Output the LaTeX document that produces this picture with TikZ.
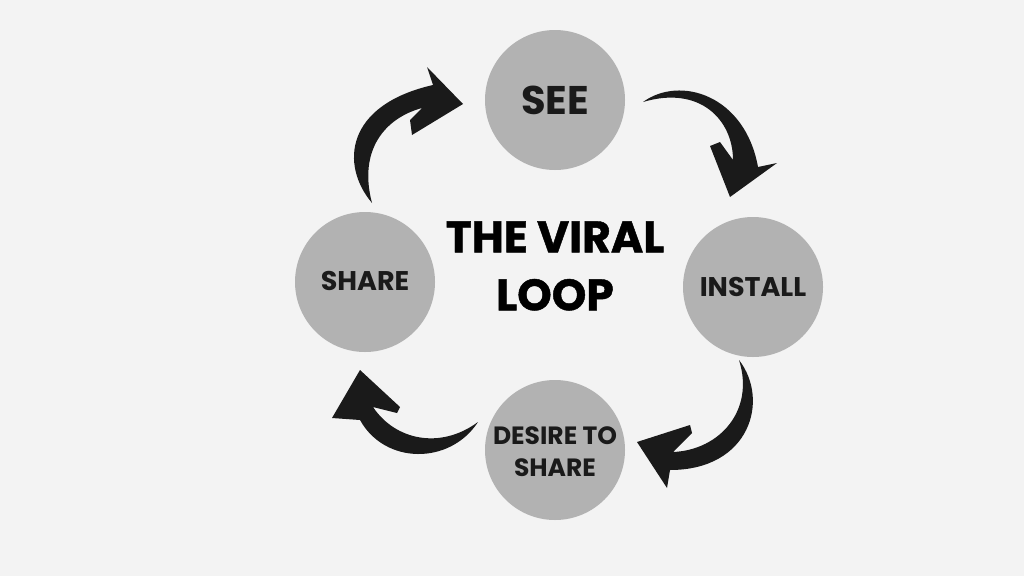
\documentclass[tikz,border=0pt]{standalone}
\usepackage{fontspec}
\setmainfont{Poppins}
\newfontfamily\heavyfont{Poppins}[BoldFeatures={FakeBold=1}]
\definecolor{bgpaper}{HTML}{F3F3F3}
\definecolor{stepgray}{HTML}{B2B2B2}
\definecolor{inkblack}{HTML}{1A1A1A}
\tikzset{
  stage/.style={circle, fill=stepgray, minimum size=140pt, inner sep=0pt,
    align=center, font=\bfseries, text=inkblack},
  loopwrap/.style={fill=inkblack},
}
\begin{document}
\begin{tikzpicture}[x=1pt, y=-1pt]
% page and background
\fill[bgpaper] (0,0) rectangle (1024,576);

% the four stages
\node[stage] (see) at (555,100) {};
\node[stage] (install) at (753,287) {};
\node[stage] (desire) at (555,450) {};
\node[stage] (share) at (365,282) {};
\node[font=\bfseries\fontsize{40}{42}\selectfont, text=inkblack] (seetxt) at (see) {SEE};
\node[font=\bfseries\fontsize{27}{30}\selectfont, text=inkblack] (installtxt) at (install) {INSTALL};
\node[font=\bfseries\fontsize{25}{32}\selectfont, text=inkblack, align=center] (desiretxt) at (555,452) {DESIRE TO\\SHARE};
\node[font=\bfseries\fontsize{27}{30}\selectfont, text=inkblack] (sharetxt) at (365,281) {SHARE};

% title
\node[font=\heavyfont\bfseries\fontsize{44}{58}\selectfont, align=center] (title) at (555,266) {THE VIRAL\\LOOP};

% arrows, share -> see
\fill[loopwrap] (372,203) .. controls (340,165) and (345,105) .. (433,85)
  -- (427,67) -- (463,104) -- (412,135) -- (410,120) -- (422,108)
  .. controls (385,118) and (358,150) .. (372,203) -- cycle;
% see -> install
\fill[loopwrap] (643,102) .. controls (680,75) and (745,95) .. (758,167)
  -- (777,163) -- (730,197) -- (710,146) -- (720,142) -- (733,160)
  .. controls (733,120) and (700,85) .. (643,102) -- cycle;
% install -> desire
\fill[loopwrap] (739,360) .. controls (770,400) and (750,470) .. (670,470)
  -- (667,488) -- (637,442) -- (690,425) -- (692,433) -- (673,452)
  .. controls (720,450) and (755,410) .. (739,360) -- cycle;
% desire -> share
\fill[loopwrap] (478,422) .. controls (450,465) and (385,465) .. (360,420)
  -- (332,418) -- (360,370) -- (400,407) -- (397,413) -- (373,407)
  .. controls (395,440) and (440,450) .. (478,422) -- cycle;
\end{tikzpicture}
\end{document}
